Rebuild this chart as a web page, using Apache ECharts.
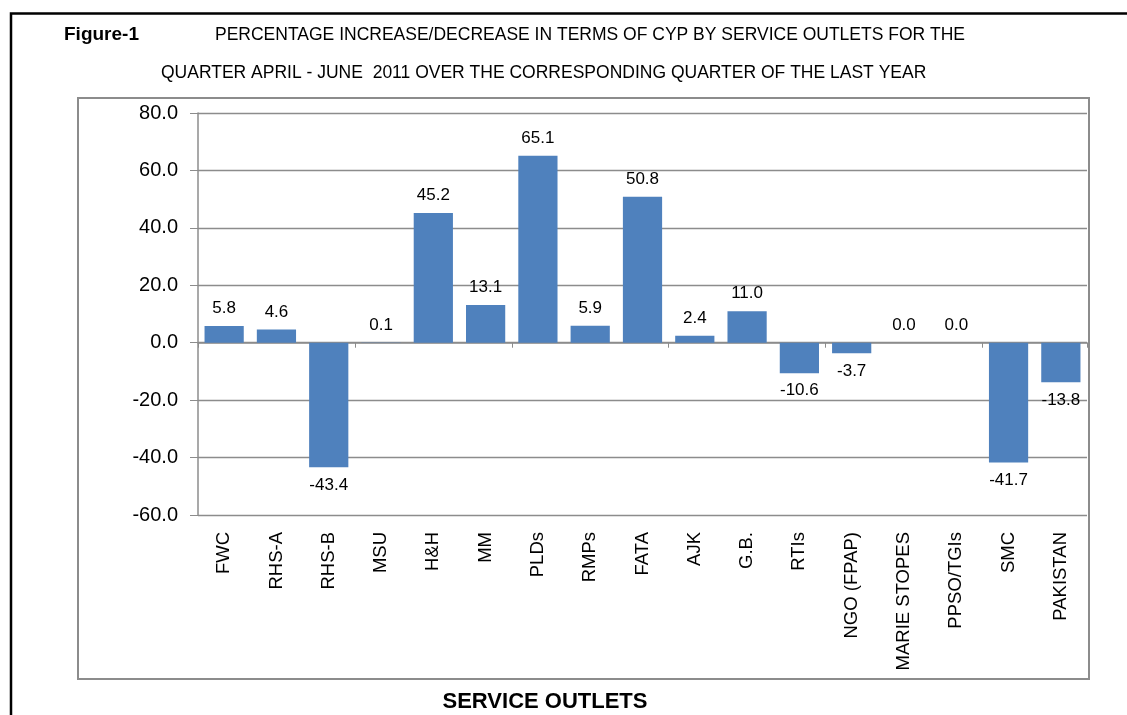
<!DOCTYPE html>
<html><head><meta charset="utf-8">
<script src="https://cdn.jsdelivr.net/npm/echarts@6/dist/echarts.min.js"></script>
<style>html,body{margin:0;padding:0;background:#fff}#c{width:1127px;height:715px}</style>
</head><body><div id="c"></div>
<script>
const categories = ["FWC","RHS-A","RHS-B","MSU","H&H","MM","PLDs","RMPs","FATA","AJK","G.B.","RTIs","NGO (FPAP)","MARIE STOPES","PPSO/TGIs","SMC","PAKISTAN"];
const values = [5.8,4.6,-43.4,0.1,45.2,13.1,65.1,5.9,50.8,2.4,11.0,-10.6,-3.7,0.0,0.0,-41.7,-13.8];
const yTicks = {min:-60, max:80, interval:20};
const titleFig = "Figure-1";
const titleLine1 = "PERCENTAGE INCREASE/DECREASE IN TERMS OF CYP BY SERVICE OUTLETS FOR THE";
const titleLine2 = "QUARTER APRIL - JUNE  2011 OVER THE CORRESPONDING QUARTER OF THE LAST YEAR";
const xName = "SERVICE OUTLETS";

const chart = echarts.init(document.getElementById('c'), null, {renderer:'canvas'});
const F = "Liberation Sans, Arial, sans-serif";
chart.setOption({
  animation:false,
  backgroundColor:'#fff',
  grid:{left:198, top:113, right:40, bottom:200, containLabel:false},
  graphic:[
    {type:'rect', shape:{x:11, y:13.5, width:1300, height:900}, style:{fill:null, stroke:'#000', lineWidth:2.5}, silent:true},
    {type:'rect', shape:{x:78, y:98, width:1011, height:581}, style:{fill:null, stroke:'#8c8c8c', lineWidth:2}, silent:true},
    {type:'text', x:64, y:35, style:{text:titleFig, font:'bold 19px '+F, fill:'#000', textVerticalAlign:'middle'}},
    {type:'text', x:215, y:35, style:{text:titleLine1, font:'17.5px '+F, fill:'#000', textVerticalAlign:'middle'}},
    {type:'text', x:161, y:73, style:{text:titleLine2, font:'17.5px '+F, fill:'#000', textVerticalAlign:'middle'}},
    {type:'text', x:545, y:702, style:{text:xName, font:'bold 22px '+F, fill:'#000', textAlign:'center', textVerticalAlign:'middle'}}
  ],
  xAxis:[
    {type:'category', data:categories, position:'bottom',
     axisLine:{onZero:true, lineStyle:{color:'#8c8c8c', width:1.5}},
     axisTick:{show:true, length:5, lineStyle:{color:'#8c8c8c'}},
     axisLabel:{show:false}, splitLine:{show:false}},
    {type:'category', data:categories, position:'bottom',
     axisLine:{show:false, onZero:false}, axisTick:{show:false}, splitLine:{show:false},
     axisLabel:{show:true, rotate:90, interval:0, margin:17, color:'#000', fontSize:18.5, fontFamily:F}}
  ],
  yAxis:{type:'value', min:yTicks.min, max:yTicks.max, interval:yTicks.interval,
    axisLine:{show:true, lineStyle:{color:'#8c8c8c', width:1.5}},
    axisTick:{show:true, length:8, lineStyle:{color:'#8c8c8c'}},
    splitLine:{show:true, lineStyle:{color:'#8c8c8c', width:1.3}},
    axisLabel:{margin:20, color:'#000', fontSize:20, fontFamily:F, formatter:v=>v.toFixed(1)}},
  series:[{type:'bar', xAxisIndex:0, data:values.map(v=>({value:v, label:{position: v<0?'bottom':'top'}})),
    barCategoryGap:'25%', itemStyle:{color:'#4F81BD'},
    label:{show:true, distance:9, color:'#000', fontSize:17, fontFamily:F, formatter:p=>p.value.toFixed(1)}}]
});
</script></body></html>
